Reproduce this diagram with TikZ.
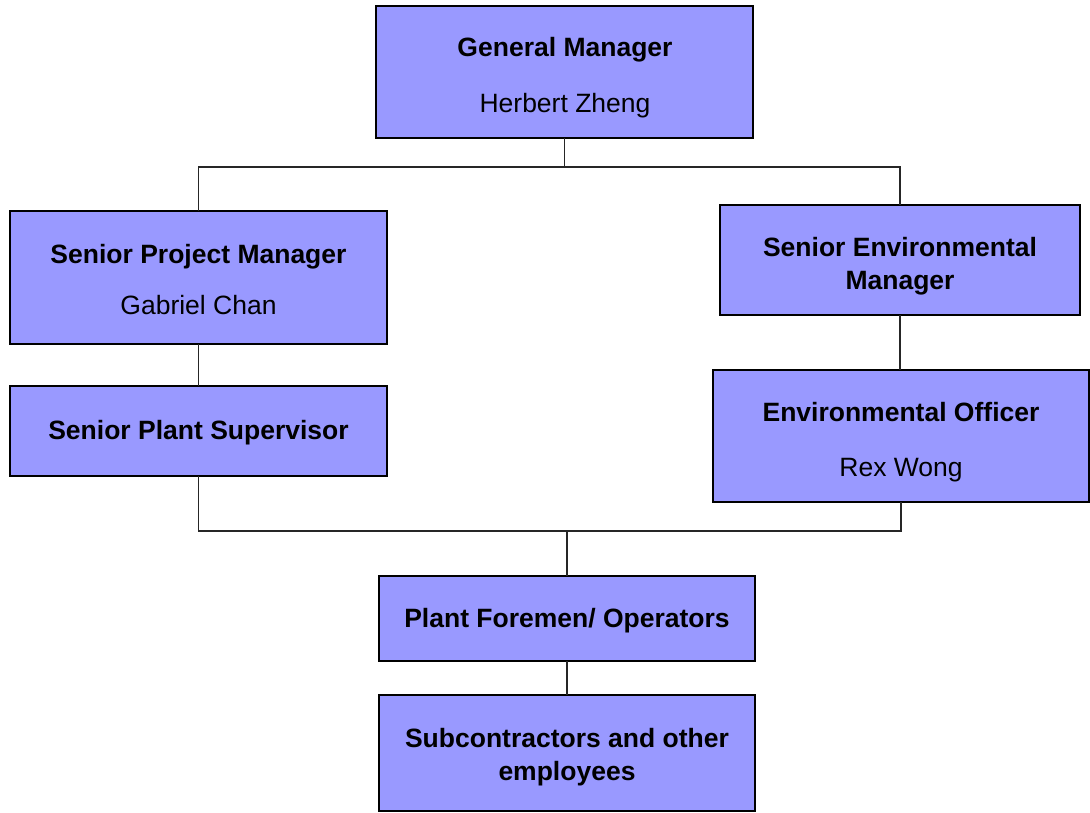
\documentclass[tikz,border=0pt]{standalone}
\usepackage{fontspec}
\setmainfont{Liberation Sans}
\definecolor{boxblue}{HTML}{9999FF}
\begin{document}
\begin{tikzpicture}[x=1pt,y=-1pt,
  box/.style={draw=black, line width=1.8pt, fill=boxblue, inner sep=0pt, outer sep=0pt},
  txt/.style={inner sep=0pt, align=center, font=\fontsize{26.5}{33}\selectfont},
  conn/.style={line width=1.4pt, draw=black!85}]
\useasboundingbox (0,0) rectangle (1090,813);
\node[box, minimum width=377pt, minimum height=132pt] (gm) at (564.5,72) {};
\node[txt] (gmt) at (565,78) {\textbf{General Manager}\\[23pt]Herbert Zheng};
\node[box, minimum width=377pt, minimum height=133pt] (spm) at (198.5,277.5) {};
\node[txt] (spmt) at (198.5,280) {\textbf{Senior Project Manager}\\[18pt]Gabriel Chan};
\node[box, minimum width=377pt, minimum height=90pt] (sps) at (198.5,431) {};
\node[txt] (spst) at (198.5,433) {\textbf{Senior Plant Supervisor}};
\node[box, minimum width=360pt, minimum height=110pt] (sem) at (900,260) {};
\node[txt] (semt) at (900,266) {\textbf{Senior Environmental}\\\textbf{Manager}};
\node[box, minimum width=376pt, minimum height=132pt] (eo) at (901,436) {};
\node[txt] (eot) at (901,442) {\textbf{Environmental Officer}\\[22pt]Rex Wong};
\node[box, minimum width=376pt, minimum height=85pt] (pfo) at (567,618.5) {};
\node[txt] (pfot) at (567,620.5) {\textbf{Plant Foremen/ Operators}};
\node[box, minimum width=376pt, minimum height=116pt] (sub) at (567,753) {};
\node[txt] (subt) at (567,757) {\textbf{Subcontractors and other}\\\textbf{employees}};
\coordinate (ja) at (199,167);
\coordinate (jc) at (199,531);
\draw[conn] (gm.south) -- (gm.south |- ja);
\draw[conn] (spm.north) -- (spm.north |- ja) -- (ja -| sem.north) -- (sem.north);
\draw[conn] (spm.south) -- (sps.north);
\draw[conn] (sem.south) -- (sem.south |- eo.north);
\draw[conn] (sps.south) -- (sps.south |- jc) -- (jc -| eo.south) -- (eo.south);
\draw[conn] (pfo.north |- jc) -- (pfo.north);
\draw[conn] (pfo.south) -- (sub.north);
\end{tikzpicture}
\end{document}
